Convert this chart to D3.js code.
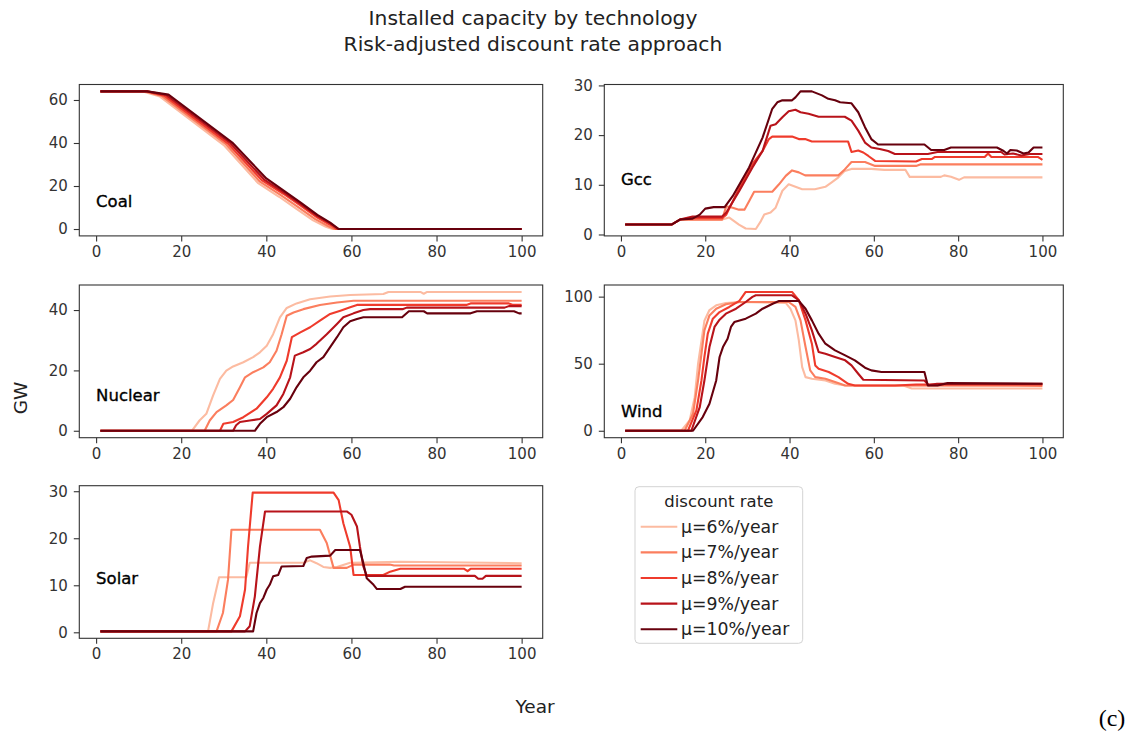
<!DOCTYPE html>
<html>
<head>
<meta charset="utf-8">
<script src="https://cdn.jsdelivr.net/npm/d3@7"></script>
<style>
  html, body { margin: 0; padding: 0; background: #fff; }
  svg { display: block; font-family: "DejaVu Sans", sans-serif; }
</style>
</head>
<body>
<svg id="chart" width="1131" height="736"></svg>
<script>
// ---- data -------------------------------------------------------------
const rates = ["μ=6%/year", "μ=7%/year", "μ=8%/year", "μ=9%/year", "μ=10%/year"];
const rateColors = ["#fcbba1", "#fb7e5e", "#ef3b2c", "#b8131a", "#67000d"];
const xTicks = [0, 20, 40, 60, 80, 100];

// each series: [year, GW] vertices, ordered 6% .. 10%
const coal = [
  [[1,64],[11,64],[15,61.6],[30,39],[38,21.5],[43,15],[47,9.5],[51,4],[54,1],[55.5,0],[100,0]],
  [[1,64],[11.5,64],[15.5,61.8],[30.5,39.4],[38.5,22],[43.5,15.6],[47.5,10.2],[51.5,4.6],[54.5,1.4],[56,0],[100,0]],
  [[1,64],[12,64],[16,62],[31,39.7],[39,22.6],[44,16.4],[48,11],[52,5.3],[55,2],[56.5,0],[100,0]],
  [[1,64],[12,64],[16.5,62.3],[31.5,40],[39.5,23],[44,17.2],[48,11.7],[52,6],[55,2.6],[57,0],[100,0]],
  [[1,64],[12,64],[17,62.5],[32,40.2],[40,23.5],[44,18],[48,12.4],[52,6.6],[55,3],[57,0],[100,0]]
];

const gcc = [
  [[1,2],[12,2],[14,3],[24,3],[25.7,3.4],[28,2],[29.6,1.2],[32,1.1],[33.2,2.7],[34,4],[35.5,4.4],[36.7,5.4],[38.3,8.8],[39.8,10.1],[41.4,9.6],[43,9.1],[46,9.1],[48.5,9.6],[50,10.5],[51.6,11.5],[53.1,12.8],[54.7,13.2],[59.4,13.2],[62.5,13],[67.5,13],[68.5,11.6],[75.9,11.6],[76.7,11.9],[78.3,11.6],[80.2,11],[81.4,11.5],[100,11.5]],
  [[1,2],[12,2],[14,3],[24,3],[25,5.7],[26.5,5.4],[28,5],[29.3,5],[30.4,6.7],[31.6,8.6],[35.9,8.6],[37.5,10.1],[39.1,11.8],[40.6,12.9],[42.2,12.5],[43.7,11.9],[51.6,11.9],[53.1,13.1],[54.7,14.6],[57.9,14.6],[60.3,13.8],[70,13.8],[71,14.1],[100,14.1]],
  [[1,2],[12,2],[14,3],[17,3.3],[24,3.3],[25,4],[28.1,9.4],[31.2,14.2],[33.6,16.8],[35.1,19.2],[35.9,19.7],[40.6,19.7],[42.2,19.2],[43.7,19.2],[45.3,18.7],[53.9,18.7],[54.7,16.6],[56.3,16.9],[57.5,16.5],[58.7,15.8],[60.3,14.8],[70,14.7],[71.4,15.2],[73.8,15.2],[74.5,15.6],[86.3,15.6],[87.1,16.3],[87.9,15.6],[98.9,15.6],[100,15]],
  [[1,2],[12,2],[14,3],[17,3.6],[24,3.6],[25,4.4],[28.1,8.8],[31.2,13.5],[33.6,16.8],[35.5,21.9],[36.7,22.2],[38.3,23.6],[39.8,24.8],[41.4,25.1],[42.6,24.6],[44.5,24.3],[46.9,23.7],[53.1,23.7],[54.7,22.9],[56.3,20.9],[57.9,18.5],[59.4,17.5],[61.4,17.2],[63.4,16.8],[65,16.2],[72.8,16.2],[75.1,16.6],[90.2,16.6],[91,16.1],[93,16.3],[95,15.9],[97,16.2],[100,16.2]],
  [[1,2],[12,2],[14,3],[17,3.2],[18.7,4],[20,5.2],[22,5.5],[24.6,5.5],[26.5,7.7],[30.4,13.5],[33.6,19.5],[35.9,25.3],[37.1,26.6],[38.3,27],[40.6,27],[41.4,27.6],[42.6,28.8],[45.3,28.8],[47.7,28],[49.2,27.3],[50.8,27],[52,26.6],[54.7,26.4],[56.3,24.6],[57.9,21.6],[59.4,19.2],[61,18.1],[72,18.1],[73.6,17],[76.7,17],[78.3,17.5],[89.2,17.5],[90.8,16.8],[91.6,16.3],[92.4,17],[93.9,16.9],[95.5,16.3],[96.7,16.5],[97.9,17.5],[100,17.5]]
];

const nuclear = [
  [[1,0],[22.5,0],[24.3,3.4],[25.9,5.6],[27.5,11.7],[29.1,17.2],[30.6,19.9],[32.2,21.3],[34.6,22.7],[36.9,24.4],[38.5,26],[40.1,28.2],[41.6,32],[43.2,37.6],[44.8,40.7],[47.1,42.2],[50.3,43.6],[55,44.5],[59.7,45],[67.5,45.3],[68.7,46],[76.2,46],[77,45.4],[77.8,46],[100,46]],
  [[1,0],[25.5,0],[26.7,3.4],[28.3,6.2],[30.6,8.4],[32.2,10.2],[33.8,14.4],[35,17.7],[36.9,19.4],[39.3,21],[40.8,22.7],[42.4,26.5],[43.6,32],[44.8,38.1],[46.4,39.2],[48.7,40.3],[52.6,41.7],[56.6,42.5],[60.5,43.1],[100,43.1]],
  [[1,0],[29.1,0],[29.9,2.3],[32.2,2.9],[34.6,4.5],[37.7,7.3],[40.1,11.1],[41.6,13.9],[43.2,17.7],[44.8,23.2],[46,31],[48,32.6],[50.3,34.3],[52.6,36.5],[55,38.7],[57.4,39.8],[59.7,40.9],[61.3,41.7],[87,41.7],[88,42.2],[97,42.2],[98,41.7],[100,41.7]],
  [[1,0],[32.2,0],[32.9,1.8],[33.8,2.9],[36.1,3.4],[38.5,3.9],[40.1,5.6],[42.4,8.4],[44,12.2],[45.6,17.7],[46.7,24.9],[48.7,26],[50.3,27.1],[51.8,28.8],[54.2,32],[56.6,35.4],[58.1,37.6],[60.5,38.9],[62.8,40],[64.4,40.3],[72,40.3],[73,40.8],[96,40.8],[97,41.3],[100,41.3]],
  [[1,0],[37.3,0],[38.5,2.3],[40.1,4.5],[42.4,6.2],[44,7.8],[45.6,10.6],[47.1,14.4],[48.7,17.7],[50.3,19.9],[51.8,22.7],[53.4,24.4],[55,27.7],[56.6,31],[58.1,34.3],[59.7,36.3],[61.3,37],[62.8,37.6],[71.9,37.6],[73.5,39.6],[77,39.6],[77.8,38.9],[88,38.9],[89.5,39.6],[98.2,39.6],[99.4,38.9],[100,38.9]]
];

const wind = [
  [[1,0],[14.3,0],[16.3,7.7],[17.5,25],[18.3,50],[19.1,67],[19.8,82],[21,90],[22.6,93.5],[24.9,95.3],[28.1,96],[39.1,95.3],[40.2,91],[41.4,82.3],[42.2,67.4],[43,47.5],[43.8,40],[45.3,38.8],[48.5,37.5],[50.8,35],[53.2,33.8],[67,33.8],[69,31.5],[100,31.5]],
  [[1,0],[15.1,0],[17.1,12.7],[18.3,37.5],[19.1,57.4],[19.8,74.8],[21,86],[22.6,91],[24.9,94.3],[28.1,96],[39.8,96],[41.4,92.3],[42.6,82.3],[43.8,62.4],[44.9,45],[46.1,40],[48.5,38.8],[50.8,36.3],[53.2,33.8],[100,33.5]],
  [[1,0],[15.9,0],[17.9,15.2],[19.1,37.5],[19.8,55],[20.6,72.4],[21.8,83.6],[23.4,88.5],[25.7,92.3],[28.1,96.8],[29.6,103.5],[40.6,103.5],[42.2,97.3],[43.8,82.3],[45.3,64.9],[46.1,48.7],[46.9,46.2],[49.3,43.8],[51.6,40],[53.9,35],[55.5,33.8],[65,33.8],[70,34.5],[100,34.5]],
  [[1,0],[16.7,0],[18.7,17.6],[19.8,37.5],[21,62.4],[22.2,77.4],[23.4,82.8],[24.9,87.3],[27.3,91],[29.6,96],[31.2,99.8],[32,101],[40.6,101],[42.2,97.3],[43.8,87.3],[45.3,74.8],[46.9,58.7],[48.5,57.4],[50.8,55],[53.2,52.5],[54.7,48.7],[56.3,42.5],[57.5,38],[72,37.5],[73,34],[75,35],[100,35]],
  [[1,0],[17.1,0],[19.4,10.2],[21,20.1],[22.6,37.5],[23.4,55],[24.2,62.4],[25.3,68.6],[26.1,77.4],[26.9,81],[29.6,83.6],[32,87.3],[33.6,91],[36,94.7],[37.5,96.8],[42.2,96.8],[43.8,91],[45.3,82.3],[46.9,72.4],[48.5,64.9],[50.8,59.9],[53.2,56.2],[55.5,52.5],[57.9,47],[59.4,45],[61.8,43.8],[72,43.8],[72.8,33.8],[75.1,33.8],[77.5,35.5],[100,35]]
];

const solar = [
  [[1,0.2],[26.3,0.2],[27.5,6.2],[28.9,11.7],[35.3,11.7],[36.1,14.8],[48.7,14.8],[50.3,15.3],[51.8,14.7],[53.4,13.9],[55,13.7],[56.6,13.9],[59.7,14.8],[71.5,15],[100,14.7]],
  [[1,0.2],[28.3,0.2],[29.8,4.1],[31,11.2],[31.8,21.8],[52.6,21.8],[54.2,19],[55.8,13.7],[58.9,13.7],[60.5,14.4],[69,14.4],[70,14.2],[100,14.2]],
  [[1,0.2],[31.8,0.2],[33.8,3.4],[35,9.1],[35.7,18.2],[36.8,29.7],[55.8,29.7],[57,28.1],[58.1,23.2],[59.7,18.2],[60.5,12.2],[67.5,12.2],[69.1,12.9],[71.5,13.5],[86.5,13.5],[87.3,13],[88,13.5],[100,13.5]],
  [[1,0.2],[35,0.2],[36.1,1.3],[37.3,7.6],[38.5,18.2],[39.7,25.7],[58.9,25.7],[60,25],[61.3,22.5],[62,18.2],[62.8,14],[63.6,12],[89,12],[89.8,11.4],[90.8,11.4],[91.6,12],[100,12]],
  [[1,0.2],[36.9,0.2],[37.7,4.1],[38.5,6.2],[39.3,7.3],[40.1,9.1],[40.8,10.1],[41.6,11.9],[42.8,12.2],[43.6,14],[48.7,14.1],[49.5,15.8],[50.7,16.1],[55,16.3],[56.2,17.5],[62,17.5],[62.8,14.7],[63.6,11.5],[64.4,10.8],[65.2,10.1],[66,9.2],[71.5,9.2],[72.6,9.7],[100,9.7]]
];

const technologies = ["Coal", "Gcc", "Nuclear", "Wind", "Solar"];
const yTicksCoal = [0, 20, 40, 60];
const yTicksGcc = [0, 10, 20, 30];
const yTicksNuclear = [0, 20, 40];
const yTicksWind = [0, 50, 100];
const yTicksSolar = [0, 10, 20, 30];

// ---- layout -----------------------------------------------------------
const W = 1131, H = 736;
const seriesByTech = [coal, gcc, nuclear, wind, solar];
const yTicksByTech = [yTicksCoal, yTicksGcc, yTicksNuclear, yTicksWind, yTicksSolar];
const boxes = [
  { l: 79.3,  t: 84.5,  r: 542.7,  b: 235.9 },
  { l: 604.3, t: 84.5,  r: 1063.3, b: 235.9 },
  { l: 79.3,  t: 285,   r: 542.7,  b: 437.7 },
  { l: 604.3, t: 285,   r: 1063.3, b: 437.7 },
  { l: 79.3,  t: 485.7, r: 542.7,  b: 638.3 }
];
// vertical anchor of each technology label, in GW
const labelAt = [13, 11, 11.7, 14.6, 11.4];

const svg = d3.select("#chart").attr("viewBox", `0 0 ${W} ${H}`);
svg.append("rect").attr("width", W).attr("height", H).attr("fill", "#fff");

const axisColor = "#333";
const tickFont = 15;

// padded extent, 5% on each side
function padded(vals) {
  const [lo, hi] = d3.extent(vals);
  const m = (hi - lo) * 0.05;
  return [lo - m, hi + m];
}

technologies.forEach((name, k) => {
  const { l, t, r, b } = boxes[k];
  const series = seriesByTech[k];
  const all = series.flat();
  const x = d3.scaleLinear().domain(padded(all.map(d => d[0]))).range([l, r]);
  const y = d3.scaleLinear().domain(padded(all.map(d => d[1]))).range([b, t]);
  const g = svg.append("g").attr("class", "panel");

  const line = d3.line().x(d => x(d[0])).y(d => y(d[1]));
  series.forEach((s, i) => {
    g.append("path")
      .datum(s)
      .attr("d", line)
      .attr("fill", "none")
      .attr("stroke", rateColors[i])
      .attr("stroke-width", 2.1)
      .attr("stroke-linejoin", "round");
  });

  // x axis
  const gx = g.append("g")
    .attr("transform", `translate(0,${b})`)
    .call(d3.axisBottom(x).tickValues(xTicks).tickSize(5.5).tickPadding(5).tickFormat(d3.format("d")));
  // y axis
  const gy = g.append("g")
    .attr("transform", `translate(${l},0)`)
    .call(d3.axisLeft(y).tickValues(yTicksByTech[k]).tickSize(5.5).tickPadding(6).tickFormat(d3.format("d")));
  [gx, gy].forEach(a => {
    a.select(".domain").remove();
    a.selectAll(".tick line").attr("stroke", axisColor).attr("stroke-width", 1.1);
    a.selectAll(".tick text")
      .attr("fill", axisColor)
      .style("font-family", "'DejaVu Sans', sans-serif")
      .style("font-size", tickFont + "px");
  });

  // frame
  g.append("rect")
    .attr("x", l).attr("y", t)
    .attr("width", r - l).attr("height", b - t)
    .attr("fill", "none")
    .attr("stroke", axisColor)
    .attr("stroke-width", 1.1);

  // technology label
  g.append("text")
    .attr("x", x(0))
    .attr("y", y(labelAt[k]))
    .attr("dominant-baseline", "central")
    .attr("fill", "#000")
    .attr("stroke", "#000")
    .attr("stroke-width", 0.35)
    .style("font-size", "16.5px")
    .text(name);
});

// ---- titles and axis names -------------------------------------------
svg.append("text")
  .attr("x", 533).attr("y", 18)
  .attr("text-anchor", "middle").attr("dominant-baseline", "central")
  .attr("fill", "#222").style("font-size", "20.3px")
  .text("Installed capacity by technology");
svg.append("text")
  .attr("x", 533).attr("y", 44)
  .attr("text-anchor", "middle").attr("dominant-baseline", "central")
  .attr("fill", "#222").style("font-size", "20.3px")
  .text("Risk-adjusted discount rate approach");

svg.append("text")
  .attr("transform", "translate(20,398) rotate(-90)")
  .attr("text-anchor", "middle").attr("dominant-baseline", "central")
  .attr("fill", "#222").style("font-size", "18.5px")
  .text("GW");
svg.append("text")
  .attr("x", 535).attr("y", 706)
  .attr("text-anchor", "middle").attr("dominant-baseline", "central")
  .attr("fill", "#222").style("font-size", "18.5px")
  .text("Year");

svg.append("text")
  .attr("x", 1112).attr("y", 718)
  .attr("text-anchor", "middle").attr("dominant-baseline", "central")
  .attr("fill", "#000")
  .style("font-family", "'Liberation Serif', 'Times New Roman', serif")
  .style("font-size", "24px")
  .text("(c)");

// ---- legend -------------------------------------------------------------
const lg = svg.append("g").attr("class", "legend");
lg.append("rect")
  .attr("x", 635).attr("y", 486.7)
  .attr("width", 167.7).attr("height", 156.6)
  .attr("rx", 4).attr("ry", 4)
  .attr("fill", "#fff")
  .attr("stroke", "#d3d3d3").attr("stroke-width", 1);
lg.append("text")
  .attr("x", 718.8).attr("y", 501.7)
  .attr("text-anchor", "middle").attr("dominant-baseline", "central")
  .attr("fill", "#222").style("font-size", "16.5px")
  .text("discount rate");
const entryY = d3.scalePoint().domain(rates).range([526.7, 629.3]);
rates.forEach((name, i) => {
  const yy = entryY(name);
  lg.append("line")
    .attr("x1", 640.7).attr("x2", 677.3)
    .attr("y1", yy).attr("y2", yy)
    .attr("stroke", rateColors[i]).attr("stroke-width", 2.1);
  lg.append("text")
    .attr("x", 681).attr("y", yy)
    .attr("dominant-baseline", "central")
    .attr("fill", "#222").style("font-size", "17.3px")
    .text(name);
});
</script>
</body>
</html>
